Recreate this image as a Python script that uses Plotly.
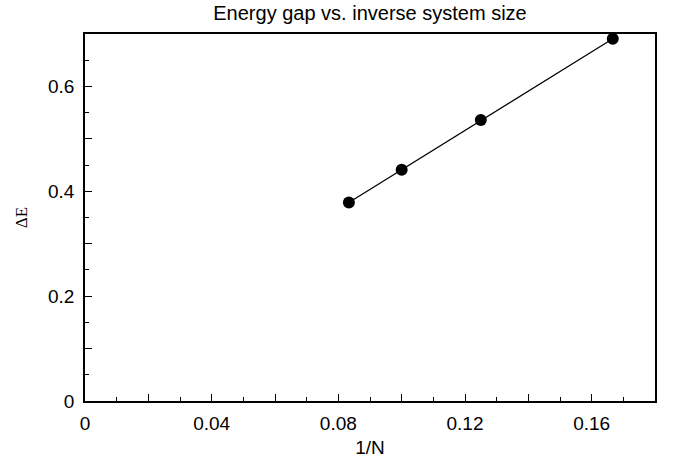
import plotly.graph_objects as go

# Data
inv_n = [1/12, 1/10, 1/8, 1/6]
delta_e = [0.3785, 0.441, 0.536, 0.691]

x_tickvals = [0, 0.02, 0.04, 0.06, 0.08, 0.10, 0.12, 0.14, 0.16, 0.18]
x_ticktext = ["0", "", "0.04", "", "0.08", "", "0.12", "", "0.16", ""]
y_tickvals = [0, 0.1, 0.2, 0.3, 0.4, 0.5, 0.6, 0.7]
y_ticktext = ["0", "", "0.2", "", "0.4", "", "0.6", ""]

fig = go.Figure()
fig.add_trace(go.Scatter(
    x=inv_n, y=delta_e, mode="lines+markers",
    line=dict(color="black", width=1.3),
    marker=dict(color="black", size=12),
    showlegend=False,
))

axis_common = dict(
    showgrid=False, zeroline=False, showline=True, linecolor="black",
    linewidth=1.5, mirror=True, ticks="inside", ticklen=7, tickwidth=1.2,
    tickcolor="black", tickfont=dict(family="Liberation Sans", size=19, color="black"),
    automargin=False,
)

fig.update_xaxes(
    range=[0, 0.18], tickmode="array", tickvals=x_tickvals, ticktext=x_ticktext,
    minor=dict(dtick=0.01, ticks="inside", ticklen=4, tickwidth=1.2, tickcolor="black"),
    ticklabelstandoff=4,
    title=dict(text="1/N", font=dict(family="Liberation Sans", size=19, color="black"), standoff=8),
    **axis_common,
)
fig.update_yaxes(
    range=[0, 0.7], tickmode="array", tickvals=y_tickvals, ticktext=y_ticktext,
    minor=dict(dtick=0.05, ticks="inside", ticklen=4, tickwidth=1.2, tickcolor="black"),
    ticklabelstandoff=5,
    title=dict(text="ΔE", font=dict(family="Liberation Serif", size=17, color="black"), standoff=16),
    **axis_common,
)

fig.update_layout(
    width=673, height=460,
    margin=dict(l=85, r=18, t=34, b=59, autoexpand=False),
    paper_bgcolor="white", plot_bgcolor="white",
    title=dict(text="Energy gap vs. inverse system size", x=0.5, xref="paper",
               y=0.988, yanchor="top",
               font=dict(family="Liberation Sans", size=20, color="black")),
)

fig.write_html("out.html")
